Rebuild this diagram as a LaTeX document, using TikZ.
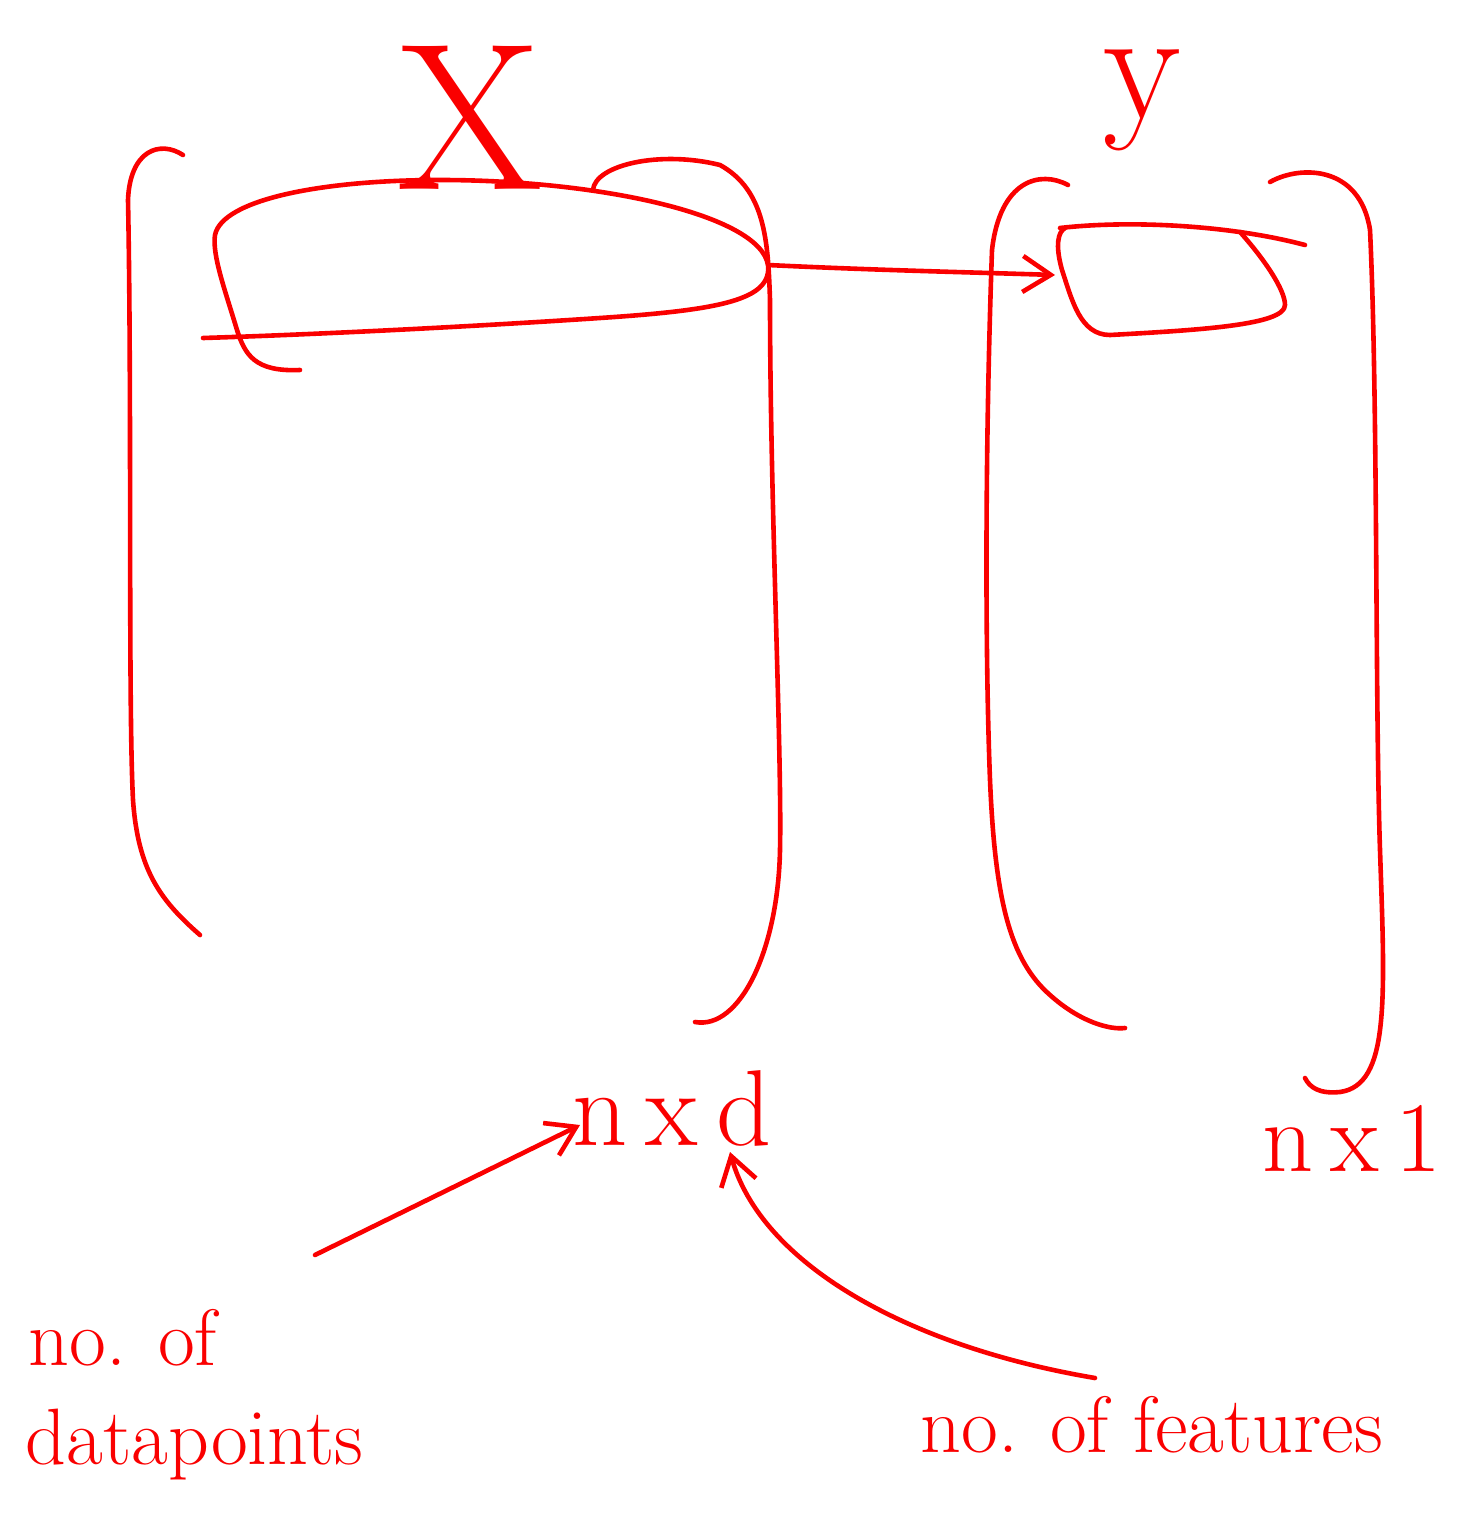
\documentclass[tikz,border=0pt]{standalone}
\usetikzlibrary{arrows.meta}
\definecolor{ink}{RGB}{250,0,0}
\begin{document}
\begin{tikzpicture}[x=0.5pt,y=-0.5pt,
  stroke/.style={draw=ink,line width=2.3pt,line cap=round,line join=round},
  arr/.style={stroke,-{Straight Barb[length=14pt,width=18pt,line width=2.3pt]}},
  lbl/.style={text=ink,inner sep=0pt}]
\useasboundingbox (0,0) rectangle (1459,1515);
% X left bracket
\draw[stroke] (183,155) .. controls (160,140) and (130,150) .. (128,200)
  .. controls (132,400) and (128,700) .. (133,800)
  .. controls (138,870) and (160,900) .. (200,935);
% X right bracket
\draw[stroke] (593,190) .. controls (595,165) and (660,150) .. (720,165)
  .. controls (765,190) and (768,240) .. (770,300)
  .. controls (770,500) and (782,750) .. (780,850)
  .. controls (778,950) and (740,1030) .. (695,1022);
% row loop in X
\draw[stroke] (300,370) .. controls (255,372) and (245,355) .. (237,330)
  .. controls (225,290) and (212,255) .. (215,235)
  .. controls (222,200) and (320,180) .. (440,180)
  .. controls (600,180) and (760,215) .. (768,265)
  .. controls (772,300) and (720,310) .. (600,318)
  .. controls (450,328) and (300,335) .. (203,338);
% X label
\node[lbl,font=\fontsize{105}{110}\selectfont] (X) at (470,118) {X};
% y brackets
\draw[stroke] (1068,185) .. controls (1040,170) and (1000,180) .. (992,250)
  .. controls (985,450) and (985,650) .. (990,780)
  .. controls (995,900) and (1010,960) .. (1050,995)
  .. controls (1080,1022) and (1110,1030) .. (1125,1028);
\draw[stroke] (1270,182) .. controls (1300,165) and (1360,165) .. (1370,230)
  .. controls (1378,400) and (1375,700) .. (1380,850)
  .. controls (1385,1000) and (1390,1085) .. (1340,1092)
  .. controls (1320,1094) and (1310,1088) .. (1305,1078);
% small box in y
\draw[stroke] (1060,228) .. controls (1130,220) and (1230,225) .. (1305,245);
\draw[stroke] (1240,232) .. controls (1265,260) and (1285,290) .. (1285,305)
  .. controls (1285,325) and (1200,330) .. (1110,335)
  .. controls (1080,335) and (1072,300) .. (1062,270)
  .. controls (1055,245) and (1058,232) .. (1065,228);
\coordinate (rowend) at (768,265);
\coordinate (boxin) at (1055,275);
\draw[arr] (rowend) .. controls (870,270) and (960,272) .. (boxin);
% y label
\node[lbl,font=\fontsize{80}{90}\selectfont] (Y) at (1142,100) {y};
% dims
\node[lbl,font=\fontsize{54}{60}\selectfont] (nd) at (672,1108) {n\,x\,d};
\node[lbl,font=\fontsize{50}{56}\selectfont] (n1) at (1352,1138) {n\,x\,1};
% annotations
\node[lbl,font=\fontsize{40}{44}\selectfont,anchor=west] (dp1) at (28,1338) {no. of};
\node[lbl,font=\fontsize{40}{44}\selectfont,anchor=west] (dp2) at (25,1445) {datapoints};
\node[lbl,font=\fontsize{40}{44}\selectfont,anchor=west] (ft) at (920,1425) {no. of features};
\coordinate (a1s) at (315,1255);
\coordinate (a1e) at (580,1125);
\draw[arr] (a1s) -- (a1e);
\coordinate (a2s) at (1095,1378);
\coordinate (a2e) at (730,1152);
\draw[arr] (a2s) .. controls (900,1345) and (760,1260) .. (a2e);
\end{tikzpicture}
\end{document}
